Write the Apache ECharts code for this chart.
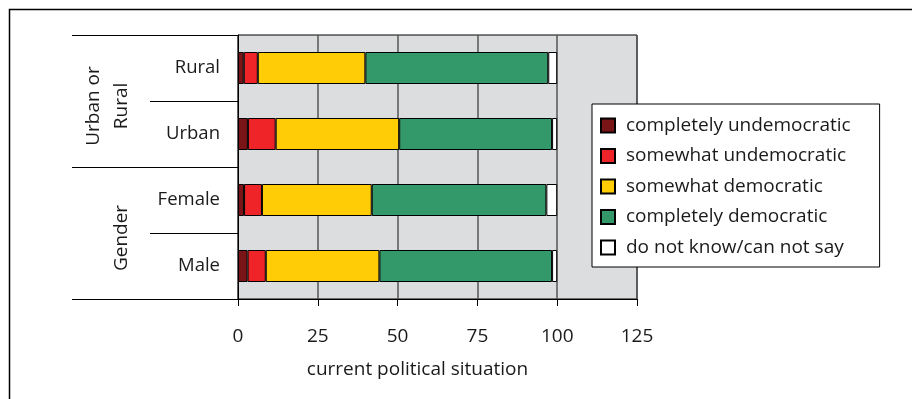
<!DOCTYPE html>
<html>
<head>
<meta charset="utf-8">
<script src="https://cdn.jsdelivr.net/npm/echarts@6/dist/echarts.min.js"></script>
<style>
  html, body { margin: 0; padding: 0; background: #fff; }
  #chart { width: 912px; height: 399px; }
</style>
</head>
<body>
<div id="chart"></div>
<script>
// data (percent of respondents)
const categories = ['Rural', 'Urban', 'Female', 'Male'];
const groups = ['Urban or\nRural', 'Gender'];
const seriesNames = ['completely undemocratic', 'somewhat undemocratic', 'somewhat democratic', 'completely democratic', 'do not know/can not say'];
const completelyUndemocratic = [1.8, 3.1, 1.9, 3.0];
const somewhatUndemocratic = [4.4, 8.7, 5.6, 5.7];
const somewhatDemocratic = [33.7, 38.7, 34.4, 35.6];
const completelyDemocratic = [57.3, 47.9, 54.7, 54.1];
const dontKnow = [2.8, 1.6, 3.4, 1.6];
const xTicks = [0, 25, 50, 75, 100, 125];

const colors = ['#7a1517', '#ee2428', '#ffcc05', '#34996a', '#ffffff'];
const values = [completelyUndemocratic, somewhatUndemocratic, somewhatDemocratic, completelyDemocratic, dontKnow];
const font = 'Open Sans';
const textColor = '#1a1a1a';

window.onload = function () {
    let chart = echarts.init(document.getElementById('chart'));
    let option = {
        animation: false,
        textStyle: { fontFamily: font },
        grid: {
            left: 238, right: 275, top: 35, bottom: 100,
            show: true, backgroundColor: '#dcdddf', borderColor: '#000', borderWidth: 1
        },
        legend: {
            orient: 'vertical',
            left: 592, top: 104,
            padding: [12, 29, 10, 8],
            backgroundColor: '#fff',
            borderColor: '#000', borderWidth: 1,
            itemWidth: 14, itemHeight: 14, itemGap: 11.5,
            icon: 'rect',
            textStyle: { fontSize: 19, color: textColor, fontFamily: font, padding: [0, 0, 0, 6] },
            data: seriesNames
        },
        xAxis: {
            type: 'value',
            min: xTicks[0], max: xTicks[xTicks.length - 1], interval: 25,
            name: 'current political situation',
            nameLocation: 'middle', nameGap: 61,
            nameTextStyle: { fontSize: 19, color: textColor, padding: [0, 40, 0, 0] },
            axisLine: { show: true, lineStyle: { color: '#000' } },
            axisTick: { show: true, length: 7, lineStyle: { color: '#000' } },
            axisLabel: { fontSize: 19, color: textColor, margin: 28 },
            splitLine: { show: true, lineStyle: { color: '#555', width: 1.5 } }
        },
        yAxis: [{
            type: 'category',
            data: categories,
            inverse: true,
            axisLine: { show: true, lineStyle: { color: '#000' } },
            axisTick: { show: true, length: 88, lineStyle: { color: '#000' } },
            axisLabel: { fontSize: 18.5, color: textColor, margin: 18 }
        }, {
            type: 'category',
            data: groups,
            inverse: true,
            position: 'left',
            axisLine: { show: false },
            axisTick: { show: true, length: 166, lineStyle: { color: '#000' } },
            axisLabel: { fontSize: 19, color: textColor, rotate: 90, margin: 102, lineHeight: 28, padding: [0, 10, 0, 0] }
        }],
        graphic: [{
            type: 'rect',
            shape: { x: 9.5, y: 9.5, width: 1000, height: 1000 },
            style: { fill: 'none', stroke: '#000', lineWidth: 1.5 },
            silent: true
        }],
        series: seriesNames.map((name, i) => ({
            name: name,
            type: 'bar',
            stack: 'total',
            yAxisIndex: 0,
            barWidth: 32,
            itemStyle: { color: colors[i], borderColor: '#000', borderWidth: 1 },
            data: values[i]
        }))
    };
    chart.setOption(option);
}
</script>
</body>
</html>
